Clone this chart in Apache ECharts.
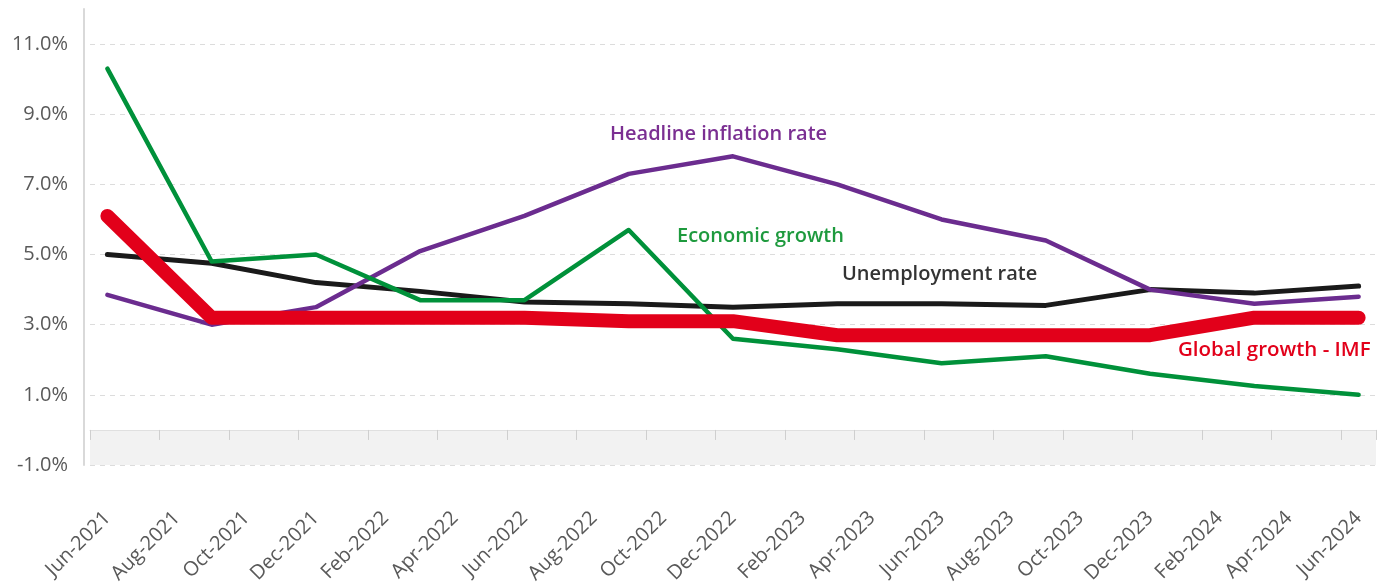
<!DOCTYPE html>
<html>
<head>
<meta charset="utf-8">
<script src="https://cdn.jsdelivr.net/npm/echarts@6/dist/echarts.min.js"></script>
<style>
html,body{margin:0;padding:0;background:#fff;}
#chart{width:1392px;height:585px;}
</style>
</head>
<body>
<div id="chart"></div>
<script>
// Monthly category axis (labels shown every second month)
const months = ['Jun-2021','Jul-2021','Aug-2021','Sep-2021','Oct-2021','Nov-2021','Dec-2021',
  'Jan-2022','Feb-2022','Mar-2022','Apr-2022','May-2022','Jun-2022','Jul-2022','Aug-2022','Sep-2022','Oct-2022','Nov-2022','Dec-2022',
  'Jan-2023','Feb-2023','Mar-2023','Apr-2023','May-2023','Jun-2023','Jul-2023','Aug-2023','Sep-2023','Oct-2023','Nov-2023','Dec-2023',
  'Jan-2024','Feb-2024','Mar-2024','Apr-2024','May-2024','Jun-2024'];
// Quarterly observation dates
const quarters = ['Jun-2021','Sep-2021','Dec-2021','Mar-2022','Jun-2022','Sep-2022','Dec-2022',
  'Mar-2023','Jun-2023','Sep-2023','Dec-2023','Mar-2024','Jun-2024'];
// Series values (%)
const economicGrowth    = [10.3, 4.8, 5.0, 3.7, 3.7, 5.7, 2.6, 2.3, 1.9, 2.1, 1.6, 1.25, 1.0];
const headlineInflation = [3.85, 3.0, 3.5, 5.1, 6.1, 7.3, 7.8, 7.0, 6.0, 5.4, 4.0, 3.6, 3.8];
const unemploymentRate  = [5.0, 4.75, 4.2, 3.95, 3.65, 3.6, 3.5, 3.6, 3.6, 3.55, 4.0, 3.9, 4.1];
const globalGrowthIMF   = [6.1, 3.2, 3.2, 3.2, 3.2, 3.1, 3.1, 2.7, 2.7, 2.7, 2.7, 3.2, 3.2];
// Y tick labels
const yTicks = [-1, 1, 3, 5, 7, 9, 11];

const pairs = vals => quarters.map((q, i) => [q, vals[i]]);
const FONT = '"Open Sans", "Liberation Sans", sans-serif';

const chart = echarts.init(document.getElementById('chart'), null, {renderer: 'canvas'});
function lineSeries(name, vals, color, width, z) {
  return {
    name: name, type: 'line', data: pairs(vals), showSymbol: false, symbol: 'none',
    z: z, animation: false, connectNulls: true,
    lineStyle: {color: color, width: width, cap: 'round', join: 'round'}
  };
}
const series = [
  lineSeries('Unemployment rate', unemploymentRate, '#1a1a1a', 5, 3),
  lineSeries('Headline inflation rate', headlineInflation, '#6b2c8f', 4.5, 4),
  lineSeries('Economic growth', economicGrowth, '#00913a', 4.5, 5),
  lineSeries('Global growth - IMF', globalGrowthIMF, '#e2001a', 14, 6)
];
series[0].markArea = {
  silent: true,
  z: 0,
  itemStyle: {color: '#f2f2f2'},
  data: [[{yAxis: -1}, {yAxis: 0}]]
};

chart.setOption({
  animation: false,
  backgroundColor: '#ffffff',
  grid: {left: 90, right: 16, top: 9, bottom: 120, containLabel: false, outerBoundsMode: 'none'},
  xAxis: {
    type: 'category',
    data: months,
    boundaryGap: true,
    z: 2,
    axisLine: {show: true, onZero: true, lineStyle: {color: '#e0e0e0', width: 1}},
    axisTick: {show: true, interval: 1, length: 10, lineStyle: {color: '#cfcfcf', width: 1}},
    axisLabel: {interval: 1, rotate: 45, margin: 50, color: '#595959', fontSize: 20, fontFamily: FONT},
    splitLine: {show: false}
  },
  yAxis: {
    type: 'value', min: -1, max: 12, interval: 2, offset: 6,
    axisLine: {show: true, lineStyle: {color: '#d9d9d9', width: 2}},
    axisTick: {show: false},
    axisLabel: {
      showMaxLabel: false, margin: 16, color: '#595959', fontSize: 20, fontFamily: FONT,
      formatter: v => yTicks.indexOf(v) >= 0 ? v.toFixed(1) + '%' : ''
    },
    splitLine: {show: true, lineStyle: {
      color: ['#dcdcdc','#dcdcdc','#dcdcdc','#dcdcdc','#dcdcdc','#dcdcdc','#dcdcdc','rgba(0,0,0,0)'],
      type: [5, 5], width: 1}}
  },
  graphic: [
    {type: 'text', left: 610, top: 124, z: 10, style: {text: 'Headline inflation rate', fill: '#7b2f92', font: '600 20px ' + FONT}},
    {type: 'text', left: 677, top: 226, z: 10, style: {text: 'Economic growth', fill: '#1e9a3e', font: '600 20px ' + FONT}},
    {type: 'text', left: 842, top: 264, z: 10, style: {text: 'Unemployment rate', fill: '#333333', font: '600 20px ' + FONT}},
    {type: 'text', left: 1178, top: 340, z: 10, style: {text: 'Global growth - IMF', fill: '#e2001a', font: '600 20.5px ' + FONT}}
  ],
  series: series
});
</script>
</body>
</html>
